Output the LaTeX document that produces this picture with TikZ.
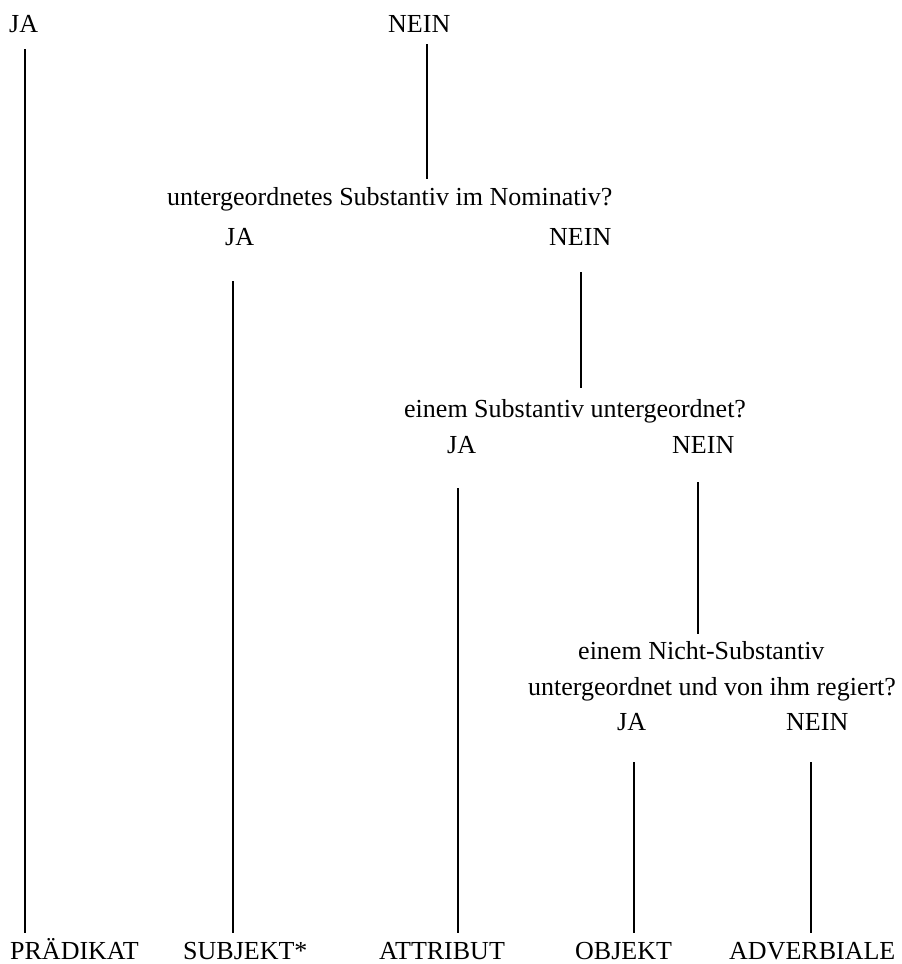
\documentclass[tikz,border=0pt]{standalone}
\usepackage{fontspec}
\setmainfont{Liberation Serif}
\begin{document}
\begin{tikzpicture}[x=1pt,y=-1pt,
  lbl/.style={anchor=base west,inner sep=0pt,font=\fontsize{26}{30}\selectfont},
  conn/.style={line width=1.6pt}]
\useasboundingbox (0,0) rectangle (902,964);
% labels
\node[lbl] (ja1) at (9,32) {JA};
\node[lbl] (nein1) at (388,32) {NEIN};
\node[lbl] (q1) at (167,205) {untergeordnetes Substantiv im Nominativ?};
\node[lbl] (ja2) at (225,245) {JA};
\node[lbl] (nein2) at (549,245) {NEIN};
\node[lbl] (q2) at (404,417) {einem Substantiv untergeordnet?};
\node[lbl] (ja3) at (447,453) {JA};
\node[lbl] (nein3) at (672,453) {NEIN};
\node[lbl] (q3a) at (578,659) {einem Nicht-Substantiv};
\node[lbl] (q3b) at (528,695) {untergeordnet und von ihm regiert?};
\node[lbl] (ja4) at (617,730) {JA};
\node[lbl] (nein4) at (786,730) {NEIN};
\node[lbl] (pra) at (10,959) {PRÄDIKAT};
\node[lbl] (sub) at (183,959) {SUBJEKT*};
\node[lbl] (att) at (379,959) {ATTRIBUT};
\node[lbl] (obj) at (575,959) {OBJEKT};
\node[lbl] (adv) at (729,959) {ADVERBIALE};
% connector ends
\coordinate (a1) at (25,49);   \coordinate (a2) at (25,933);
\coordinate (b1) at (427,44);  \coordinate (b2) at (427,179);
\coordinate (c1) at (233,281); \coordinate (c2) at (233,933);
\coordinate (d1) at (581,272); \coordinate (d2) at (581,388);
\coordinate (e1) at (458,488); \coordinate (e2) at (458,933);
\coordinate (f1) at (698,482); \coordinate (f2) at (698,634);
\coordinate (g1) at (634,762); \coordinate (g2) at (634,933);
\coordinate (h1) at (811,762); \coordinate (h2) at (811,933);
% connectors
\draw[conn] (a1) -- (a2);
\draw[conn] (b1) -- (b2);
\draw[conn] (c1) -- (c2);
\draw[conn] (d1) -- (d2);
\draw[conn] (e1) -- (e2);
\draw[conn] (f1) -- (f2);
\draw[conn] (g1) -- (g2);
\draw[conn] (h1) -- (h2);
\end{tikzpicture}
\end{document}
